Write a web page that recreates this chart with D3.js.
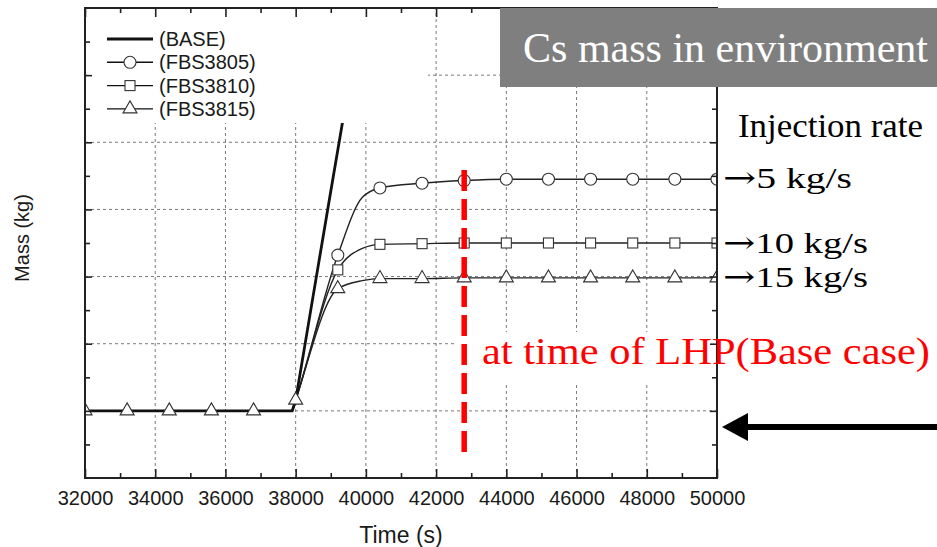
<!DOCTYPE html>
<html>
<head>
<meta charset="utf-8">
<script src="https://cdn.jsdelivr.net/npm/d3@7"></script>
<style>
  body { margin: 0; background: #fff; }
  svg { display: block; }
</style>
</head>
<body>
<div id="chart"></div>
<script>
// data (mass in arbitrary units, y axis has no labels)
var xMajorTicks = [32000, 34000, 36000, 38000, 40000, 42000, 44000, 46000, 48000, 50000];
var xMinorTicks = [33000, 35000, 37000, 39000, 41000, 43000, 45000, 47000, 49000];
var yMajorTicks = [1, 2, 3, 4, 5, 6];
var yMinorTicks = [0.5, 1.5, 2.5, 3.5, 4.5, 5.5, 6.5];

var seriesNames = ['(BASE)', '(FBS3805)', '(FBS3810)', '(FBS3815)'];

var baseTimes = [32000, 37900, 38000, 38500, 39000, 39400];
var baseMass  = [1.0, 1.0, 1.16, 2.72, 4.27, 5.5];

var fbsTimes    = [32000, 33200, 34400, 35600, 36800, 37900, 38000, 39200, 39900, 40400, 41600, 42800, 44000, 45200, 46400, 47600, 48800, 50000];
var fbs3805Mass = [1.0, 1.0, 1.0, 1.0, 1.0, 1.0, 1.16, 3.32, 4.18, 4.32, 4.39, 4.43, 4.45, 4.45, 4.45, 4.45, 4.45, 4.45];
var fbs3810Mass = [1.0, 1.0, 1.0, 1.0, 1.0, 1.0, 1.16, 3.10, 3.42, 3.48, 3.49, 3.50, 3.50, 3.50, 3.50, 3.50, 3.50, 3.50];
var fbs3815Mass = [1.0, 1.0, 1.0, 1.0, 1.0, 1.0, 1.16, 2.82, 2.94, 2.97, 2.97, 2.98, 2.98, 2.98, 2.98, 2.98, 2.98, 2.98];

// marker positions (every 1200 s)
var markerTimes = [32000, 33200, 34400, 35600, 36800, 38000, 39200, 40400, 41600, 42800, 44000, 45200, 46400, 47600, 48800, 50000];
var lhpTime = 42800;

var rateLabels = ['5 kg/s', '10 kg/s', '15 kg/s'];

var width = 937, height = 547;
var serif = "'Liberation Serif', 'Times New Roman', serif";
var sans = "'Liberation Sans', Arial, sans-serif";

var svg = d3.select('#chart').append('svg')
    .attr('width', width)
    .attr('height', height);

var x = d3.scaleLinear().domain([32000, 50000]).range([85, 717]);
var y = d3.scaleLinear().domain([0, 7]).range([478, 8]);

svg.append('defs').append('clipPath').attr('id', 'plotclip')
  .append('rect')
    .attr('x', x(32000)).attr('y', y(7))
    .attr('width', x(50000) - x(32000)).attr('height', y(0) - y(7));

// grid
var grid = svg.append('g')
    .attr('stroke', '#7a7a7a')
    .attr('stroke-width', 1)
    .attr('stroke-dasharray', '3,3');
grid.selectAll('.vg')
  .data(xMajorTicks.slice(1, -1))
  .enter().append('line')
    .attr('x1', d => x(d)).attr('x2', d => x(d))
    .attr('y1', y(0)).attr('y2', y(7));
grid.selectAll('.hg')
  .data(yMajorTicks)
  .enter().append('line')
    .attr('x1', x(32000)).attr('x2', x(50000))
    .attr('y1', d => y(d)).attr('y2', d => y(d));

// white box behind the red note
svg.append('rect')
    .attr('x', 455).attr('y', 332)
    .attr('width', 482).attr('height', 52)
    .attr('fill', '#fff');

var plot = svg.append('g').attr('clip-path', 'url(#plotclip)');

var line = d3.line()
    .x(d => x(d.t))
    .y(d => y(d.v))
    .curve(d3.curveMonotoneX);

var baseData = baseTimes.map((t, i) => ({t: t, v: baseMass[i]}));
var fbsSeries = [
  {name: seriesNames[1], mass: fbs3805Mass, marker: 'circle', from: 39200},
  {name: seriesNames[2], mass: fbs3810Mass, marker: 'square', from: 39200},
  {name: seriesNames[3], mass: fbs3815Mass, marker: 'triangle', from: 32000}
];
fbsSeries.forEach(s => {
  s.data = fbsTimes.map((t, i) => ({t: t, v: s.mass[i]}));
});

// lines
fbsSeries.forEach(s => {
  plot.append('path')
      .datum(s.data)
      .attr('d', line)
      .attr('fill', 'none')
      .attr('stroke', '#222')
      .attr('stroke-width', 1.4);
});
plot.append('path')
    .datum(baseData)
    .attr('d', d3.line().x(d => x(d.t)).y(d => y(d.v)))
    .attr('fill', 'none')
    .attr('stroke', '#111')
    .attr('stroke-width', 2.8);

// markers
function drawMarker(g, type, cx, cy) {
  if (type === 'circle') {
    g.append('circle').attr('cx', cx).attr('cy', cy).attr('r', 6);
  } else if (type === 'square') {
    g.append('rect').attr('x', cx - 5).attr('y', cy - 5).attr('width', 10).attr('height', 10);
  } else {
    g.append('path').attr('d', 'M' + cx + ',' + (cy - 8) + 'L' + (cx + 7) + ',' + (cy + 4) + 'L' + (cx - 7) + ',' + (cy + 4) + 'Z');
  }
}
fbsSeries.forEach(s => {
  var mg = plot.append('g')
      .attr('fill', '#fff')
      .attr('stroke', '#333')
      .attr('stroke-width', 1.1);
  s.data.filter(d => markerTimes.indexOf(d.t) >= 0 && d.t >= s.from)
    .forEach(d => drawMarker(mg, s.marker, x(d.t), y(d.v)));
});

// legend (white box covers grid and top of base curve)
svg.append('rect')
    .attr('x', 87).attr('y', 9)
    .attr('width', 341).attr('height', 114)
    .attr('fill', '#fff');
var legend = svg.append('g');
seriesNames.forEach((name, i) => {
  var ly = 39 + i * 23.3;
  legend.append('line')
      .attr('x1', 107).attr('x2', 153)
      .attr('y1', ly).attr('y2', ly)
      .attr('stroke', '#111')
      .attr('stroke-width', i === 0 ? 2.8 : 1.4);
  if (i > 0) {
    var mg = legend.append('g').attr('fill', '#fff').attr('stroke', '#333').attr('stroke-width', 1.1);
    drawMarker(mg, fbsSeries[i - 1].marker, 130, ly);
  }
  legend.append('text')
      .attr('x', 159).attr('y', ly + 7)
      .attr('font-family', sans)
      .attr('font-size', '20px')
      .attr('fill', '#1a1a1a')
      .text(name);
});

// axes, ticks pointing inward
function styleAxis(g) {
  g.select('.domain').remove();
  g.selectAll('line').attr('stroke', '#222').attr('stroke-width', 1.6);
  g.selectAll('text').attr('font-family', sans).attr('font-size', '20px').attr('fill', '#1a1a1a');
}
svg.append('g')
    .attr('transform', 'translate(0,' + y(0) + ')')
    .call(d3.axisBottom(x).tickValues(xMajorTicks).tickSize(-9).tickPadding(13).tickFormat(d3.format('d')))
    .call(styleAxis);
svg.append('g')
    .attr('transform', 'translate(0,' + y(0) + ')')
    .call(d3.axisBottom(x).tickValues(xMinorTicks).tickSize(-5).tickFormat(''))
    .call(styleAxis);
svg.append('g')
    .attr('transform', 'translate(0,' + y(7) + ')')
    .call(d3.axisTop(x).tickValues(xMajorTicks).tickSize(-9).tickFormat(''))
    .call(styleAxis);
svg.append('g')
    .attr('transform', 'translate(0,' + y(7) + ')')
    .call(d3.axisTop(x).tickValues(xMinorTicks).tickSize(-5).tickFormat(''))
    .call(styleAxis);
svg.append('g')
    .attr('transform', 'translate(' + x(32000) + ',0)')
    .call(d3.axisLeft(y).tickValues(yMajorTicks).tickSize(-7).tickFormat(''))
    .call(styleAxis);
svg.append('g')
    .attr('transform', 'translate(' + x(32000) + ',0)')
    .call(d3.axisLeft(y).tickValues(yMinorTicks).tickSize(-5).tickFormat(''))
    .call(styleAxis);
svg.append('g')
    .attr('transform', 'translate(' + x(50000) + ',0)')
    .call(d3.axisRight(y).tickValues(yMajorTicks).tickSize(-7).tickFormat(''))
    .call(styleAxis);
svg.append('g')
    .attr('transform', 'translate(' + x(50000) + ',0)')
    .call(d3.axisRight(y).tickValues(yMinorTicks).tickSize(-5).tickFormat(''))
    .call(styleAxis);

// frame
svg.append('rect')
    .attr('x', x(32000)).attr('y', y(7))
    .attr('width', x(50000) - x(32000)).attr('height', y(0) - y(7))
    .attr('fill', 'none')
    .attr('stroke', '#222')
    .attr('stroke-width', 2);

// axis titles
svg.append('text')
    .attr('x', 401).attr('y', 543)
    .attr('text-anchor', 'middle')
    .attr('font-family', sans).attr('font-size', '23px').attr('fill', '#1a1a1a')
    .text('Time (s)');
svg.append('text')
    .attr('transform', 'translate(29,238) rotate(-90)')
    .attr('text-anchor', 'middle')
    .attr('font-family', sans).attr('font-size', '20px').attr('fill', '#1a1a1a')
    .text('Mass (kg)');

// title box
svg.append('rect')
    .attr('x', 500).attr('y', 8)
    .attr('width', 437).attr('height', 79)
    .attr('fill', '#7f7f7f');
svg.append('text')
    .attr('x', 523).attr('y', 62)
    .attr('font-family', serif).attr('font-size', '43px').attr('fill', '#fff')
    .attr('textLength', 405).attr('lengthAdjust', 'spacingAndGlyphs')
    .text('Cs mass in environment');

// injection rate notes
svg.append('text')
    .attr('x', 738).attr('y', 137)
    .attr('font-family', serif).attr('font-size', '34px').attr('fill', '#000')
    .attr('textLength', 185).attr('lengthAdjust', 'spacingAndGlyphs')
    .text('Injection rate');
var rateY = [188, 253, 287];
var rateW = [129, 145, 145];
rateLabels.forEach((t, i) => {
  var rt = svg.append('text')
      .attr('x', 723).attr('y', rateY[i])
      .attr('font-size', '30px').attr('fill', '#000')
      .attr('textLength', rateW[i]).attr('lengthAdjust', 'spacingAndGlyphs');
  rt.append('tspan').attr('font-family', "'DejaVu Serif', serif").text('\u2192');
  rt.append('tspan').attr('font-family', serif).text(t);
});

// LHP line and note
svg.append('line')
    .attr('x1', x(lhpTime)).attr('x2', x(lhpTime))
    .attr('y1', 170).attr('y2', 458)
    .attr('stroke', '#ff0000')
    .attr('stroke-width', 5.5)
    .attr('stroke-dasharray', '21,8');
svg.append('text')
    .attr('x', 482).attr('y', 364)
    .attr('font-family', serif).attr('font-size', '38px').attr('fill', '#ff0000')
    .attr('textLength', 448).attr('lengthAdjust', 'spacingAndGlyphs')
    .text('at time of LHP(Base case)');

// arrow pointing at base level
svg.append('line')
    .attr('x1', 746).attr('x2', 937)
    .attr('y1', 427).attr('y2', 427)
    .attr('stroke', '#000').attr('stroke-width', 6);
svg.append('path')
    .attr('d', 'M722,427L748,413L748,441Z')
    .attr('fill', '#000');
</script>
</body>
</html>
